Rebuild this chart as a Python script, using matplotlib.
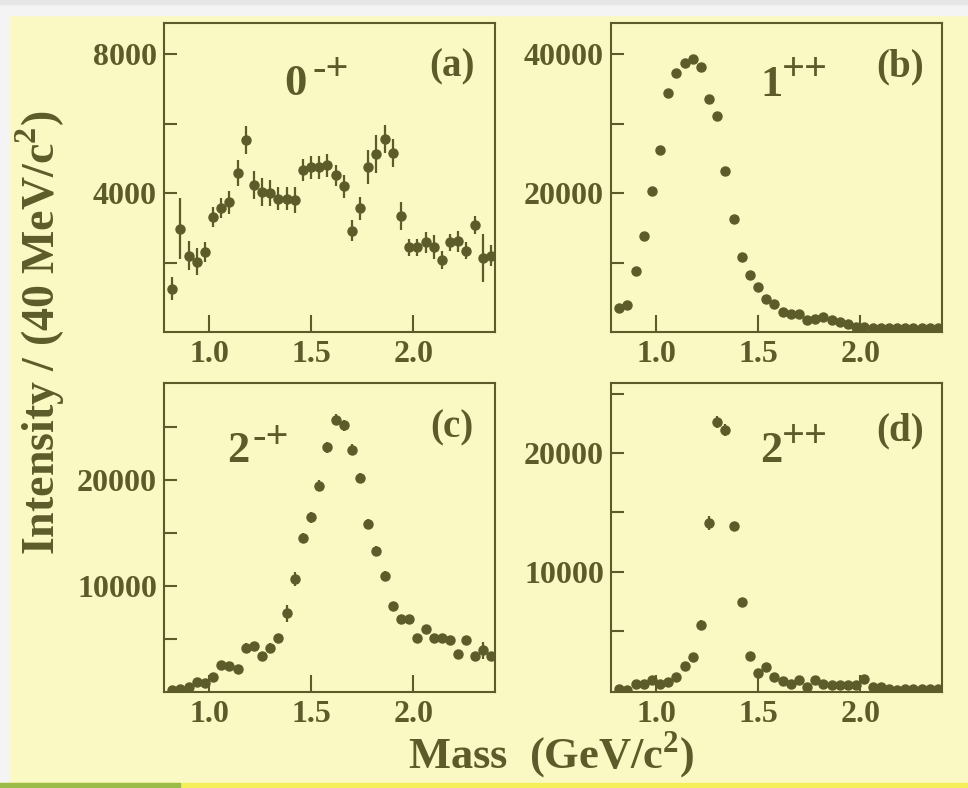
import matplotlib
matplotlib.use("Agg")
import matplotlib.pyplot as plt
from matplotlib.patches import Rectangle

# bin centres (40 MeV bins)
mass = [0.82, 0.86, 0.90, 0.94, 0.98, 1.02, 1.06, 1.10, 1.14, 1.18,
        1.22, 1.26, 1.30, 1.34, 1.38, 1.42, 1.46, 1.50, 1.54, 1.58,
        1.62, 1.66, 1.70, 1.74, 1.78, 1.82, 1.86, 1.90, 1.94, 1.98,
        2.02, 2.06, 2.10, 2.14, 2.18, 2.22, 2.26, 2.30, 2.34, 2.38]

# (a) 0-+
int_0mp = [1250, 2970, 2200, 2030, 2310, 3310, 3570, 3740, 4580, 5540,
           4240, 4030, 4000, 3840, 3840, 3810, 4660, 4750, 4750, 4800,
           4510, 4200, 2920, 3570, 4750, 5120, 5570, 5160, 3350, 2440,
           2440, 2580, 2440, 2070, 2580, 2610, 2340, 3080, 2130, 2200]
err_0mp = [340, 880, 420, 400, 280, 300, 300, 330, 370, 400,
           400, 400, 380, 330, 330, 370, 320, 330, 330, 330,
           300, 330, 300, 330, 500, 550, 400, 400, 400, 250,
           250, 300, 350, 250, 250, 300, 250, 250, 680, 300]

# (b) 1++
int_1pp = [3420, 3900, 8820, 13880, 20240, 26170, 34460, 37350, 38700, 39270,
           38210, 33540, 31080, 23180, 16290, 10750, 8240, 6410, 4720, 4100,
           2890, 2550, 2650, 1690, 1930, 2170, 1690, 1450, 1110, 770,
           720, 630, 630, 630, 580, 630, 530, 530, 530, 530]

# (c) 2-+
int_2mp = [160, 250, 470, 950, 850, 1420, 2590, 2460, 2210, 4200,
           4360, 3410, 4200, 5060, 7430, 10680, 14540, 16500, 19500, 23130,
           25750, 25190, 22910, 20220, 15890, 13340, 11000, 8120, 6890, 6890,
           5150, 5940, 5150, 5060, 4960, 3630, 4960, 3380, 3950, 3380]
err_2mp = [250, 250, 250, 300, 300, 300, 350, 350, 350, 400,
           400, 400, 400, 450, 790, 630, 500, 500, 500, 500,
           500, 500, 500, 500, 450, 450, 400, 400, 400, 400,
           350, 350, 350, 350, 350, 350, 350, 350, 790, 400]

# (d) 2++
int_2pp = [140, 50, 510, 560, 850, 510, 710, 1130, 2030, 2760,
           5500, 14100, 22620, 21940, 13820, 7470, 2880, 1470, 1920, 1130,
           790, 510, 900, 280, 900, 510, 420, 420, 420, 420,
           930, 280, 280, 140, 50, 100, 140, 140, 100, 100]
err_2pp = [150, 150, 150, 150, 200, 200, 200, 250, 300, 300,
           400, 560, 480, 480, 400, 300, 250, 200, 200, 200,
           150, 150, 150, 150, 150, 150, 150, 150, 150, 150,
           150, 150, 150, 150, 150, 150, 150, 150, 150, 150]

ytick_a = [2000, 4000, 6000, 8000]
ylab_a = ["", "4000", "", "8000"]
ytick_b = [10000, 20000, 30000, 40000]
ylab_b = ["", "20000", "", "40000"]
ytick_cd = [5000, 10000, 15000, 20000, 25000]
ylab_cd = ["", "10000", "", "20000", ""]
xtick = [1.0, 1.5, 2.0]
xlab = ["1.0", "1.5", "2.0"]

BG = "#faf9c3"
INK = "#5c5b2a"
SERIF = ["Liberation Serif", "DejaVu Serif"]

plt.rcParams["font.family"] = SERIF
plt.rcParams["font.weight"] = "bold"
plt.rcParams["mathtext.fontset"] = "custom"
plt.rcParams["mathtext.rm"] = "Liberation Serif:bold"
plt.rcParams["mathtext.bf"] = "Liberation Serif:bold"

W, H = 968, 788
fig = plt.figure(figsize=(9.68, 7.88), dpi=100, facecolor=BG)


def fx(px):
    return px / W


def fy(py):
    return 1 - py / H


# page borders around the yellow panel
fig.patches.append(Rectangle((0, fy(15)), 1, 15 / H, transform=fig.transFigure,
                             color="#f4f4f4", zorder=-5))
fig.patches.append(Rectangle((0, fy(4)), 1, 4 / H, transform=fig.transFigure,
                             color="#e6e6e6", zorder=-4))
fig.patches.append(Rectangle((0, 0), 9 / W, 1, transform=fig.transFigure,
                             color="#f4f4f4", zorder=-5))
fig.patches.append(Rectangle((0, 0), 1, 5 / H, transform=fig.transFigure,
                             color="#f5f05a", zorder=-4))
fig.patches.append(Rectangle((0, 0), 180 / W, 5 / H, transform=fig.transFigure,
                             color="#9cbc4a", zorder=-3))


def make_axes(left, top, right, bottom):
    ax = fig.add_axes([fx(left), fy(bottom), fx(right - left), (bottom - top) / H])
    ax.set_facecolor(BG)
    for s in ax.spines.values():
        s.set_color(INK)
        s.set_linewidth(1.5)
    ax.set_xlim(0.78, 2.40)
    ax.set_xticks(xtick)
    ax.set_xticklabels(xlab)
    ax.tick_params(axis="x", direction="in", length=12, width=1.5, color=INK,
                   labelcolor=INK, labelsize=23, pad=6, top=False)
    ax.tick_params(axis="y", direction="in", length=9, width=1.5, color=INK,
                   labelcolor=INK, labelsize=23, pad=5, right=False)
    for lab in ax.get_xticklabels() + ax.get_yticklabels():
        lab.set_fontweight("bold")
    return ax


def label(x, y, base, sup, sx, sy):
    fig.text(fx(x), fy(y), base, ha="center", va="center", fontsize=32,
             fontweight="bold", color=INK)
    fig.text(fx(sx), fy(sy), sup, ha="left", va="center", fontsize=29,
             fontweight="bold", color=INK)


# (a)
ax = make_axes(164, 23, 495, 332)
ax.errorbar(mass, int_0mp, yerr=err_0mp, fmt="o", color=INK, ms=6.5,
            elinewidth=1.6, capsize=0)
ax.set_ylim(0, 8900)
ax.set_yticks(ytick_a)
ax.set_yticklabels(ylab_a, fontweight="bold")

# (b)
ax = make_axes(611, 23, 942, 332)
ax.plot(mass, int_1pp, "o", color=INK, ms=6.5)
ax.set_ylim(0, 44500)
ax.set_yticks(ytick_b)
ax.set_yticklabels(ylab_b, fontweight="bold")

# (c)
ax = make_axes(164, 383, 495, 692)
ax.errorbar(mass, int_2mp, yerr=err_2mp, fmt="o", color=INK, ms=6.5,
            elinewidth=1.6, capsize=0)
ax.set_ylim(0, 29200)
ax.set_yticks(ytick_cd)
ax.set_yticklabels(ylab_cd, fontweight="bold")

# (d)
ax = make_axes(611, 383, 942, 692)
ax.errorbar(mass, int_2pp, yerr=err_2pp, fmt="o", color=INK, ms=6.5,
            elinewidth=1.6, capsize=0)
ax.set_ylim(-150, 25900)
ax.set_yticks(ytick_cd)
ax.set_yticklabels(ylab_cd, fontweight="bold")

# wave labels and panel letters
label(295, 84, "0", "-+", 313, 70)
label(771, 85, "1", "++", 782, 71)
label(238, 451, "2", "-+", 252, 439)
label(771, 451, "2", "++", 782, 438)
for x, y, t in [(452, 67, "(a)"), (900, 67, "(b)"), (452, 428, "(c)"), (900, 431, "(d)")]:
    fig.text(fx(x), fy(y), t, ha="center", va="center", fontsize=28,
             fontweight="bold", color=INK)

fig.text(fx(40), fy(333), "Intensity / (40 MeV/c$^2$)", rotation=90,
         ha="center", va="center", fontsize=33, fontweight="bold", color=INK)
fig.text(fx(551), fy(755), "Mass  (GeV/c$^2$)", ha="center", va="center",
         fontsize=32, fontweight="bold", color=INK)

fig.savefig("out.png", dpi=100, facecolor=BG)
